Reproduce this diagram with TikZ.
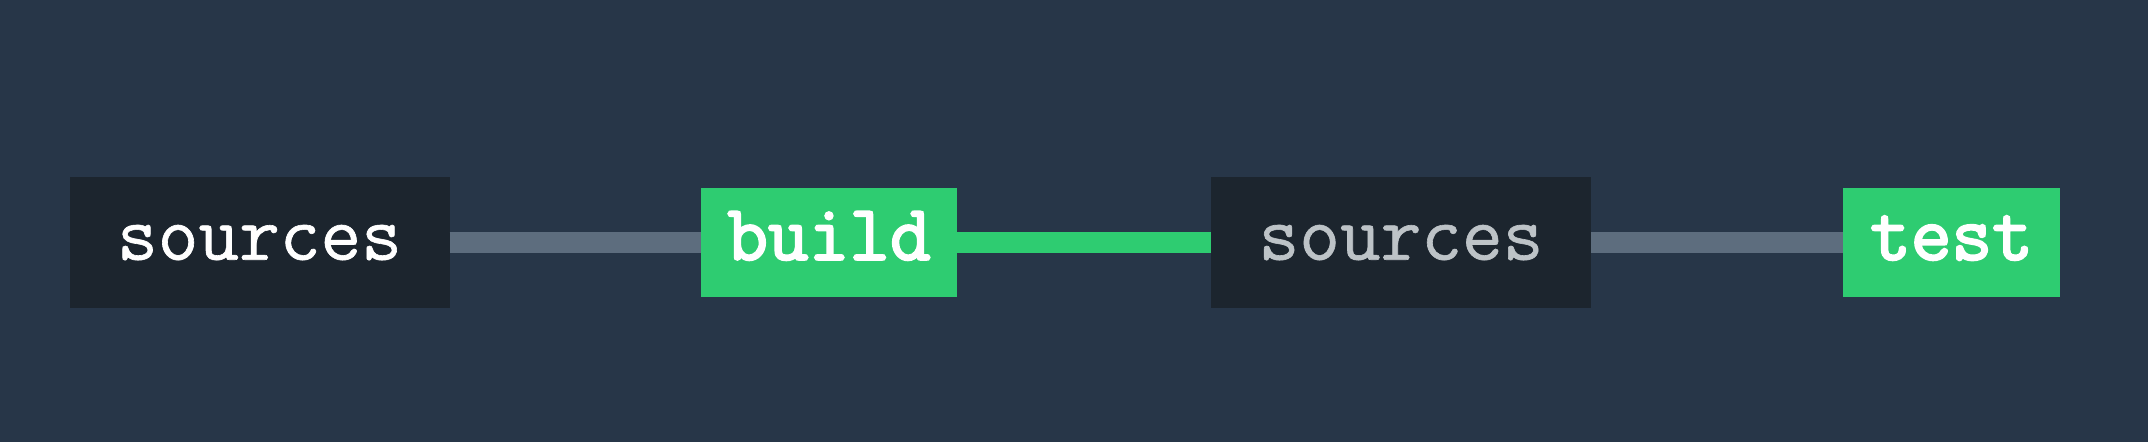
\documentclass[tikz,border=0pt]{standalone}
\usepackage{fontspec}
\newfontfamily\srcfont{Latin Modern Mono}[FakeBold=0.8]
\newfontfamily\jobfont{Latin Modern Mono}[FakeBold=2.8]
\definecolor{bg}{HTML}{273648}
\definecolor{darkbox}{HTML}{1C252E}
\definecolor{grn}{HTML}{2ECC71}
\definecolor{grayline}{HTML}{5D6D7E}
\definecolor{lighttext}{HTML}{BDC3C7}
\begin{document}
\begin{tikzpicture}[x=0.5pt,y=0.5pt,
  box/.style={rectangle, inner sep=0pt, outer sep=0pt, text height=17pt, text depth=0pt},
  srcbox/.style={box, fill=darkbox, minimum width=190pt, minimum height=65.75pt,
    font=\srcfont\fontsize{39.5}{44}\selectfont},
  jobbox/.style={box, fill=grn, minimum height=54.75pt, font=\jobfont\fontsize{39.5}{44}\selectfont, text=white},
  conn/.style={line width=10.75pt}]
\fill[bg] (0,0) rectangle (2148,442);
\useasboundingbox (0,0) rectangle (2148,442);
\node[srcbox, text=white] (s1) at (259.5,199.25) {sources};
\node[jobbox, minimum width=127.75pt] (build) at (829,199.25) {build};
\node[srcbox, text=lighttext] (s2) at (1401,199.25) {sources};
\node[jobbox, minimum width=108.5pt] (test) at (1951.5,199.25) {test};
\draw[conn, grayline] (s1.east) -- (build.west);
\draw[conn, grn] (build.east) -- (s2.west);
\draw[conn, grayline] (s2.east) -- (test.west);
\end{tikzpicture}
\end{document}
